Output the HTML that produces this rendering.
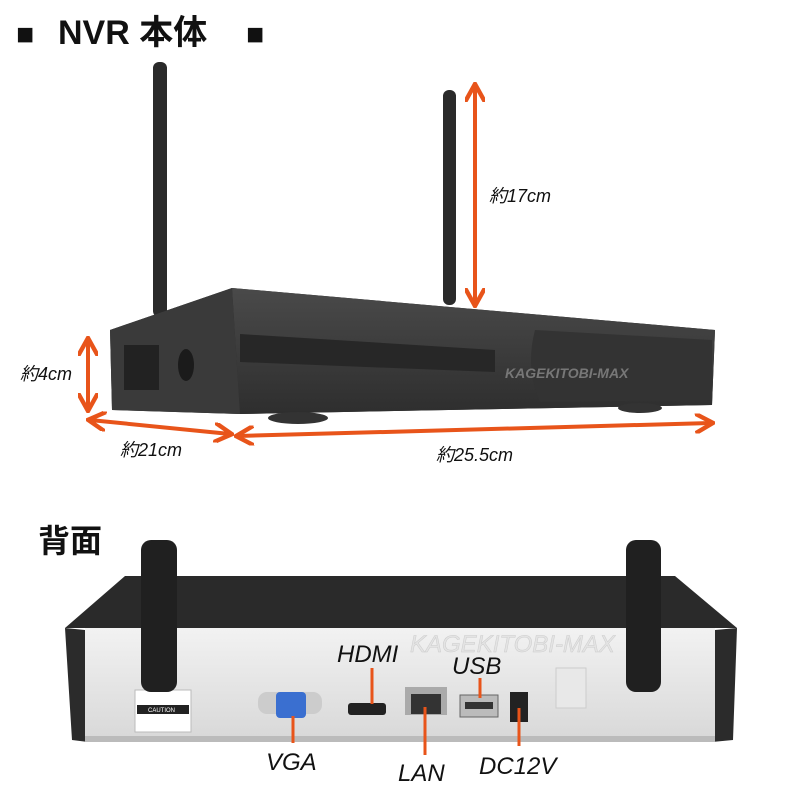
<!DOCTYPE html>
<html><head><meta charset="utf-8"><style>
html,body{margin:0;padding:0;background:#fff;}
svg{display:block}
text{font-family:"Liberation Sans","Noto Sans CJK JP",sans-serif}
</style></head><body>
<svg width="800" height="800" viewBox="0 0 800 800" xmlns="http://www.w3.org/2000/svg">
<defs>
<marker id="ah" viewBox="0 0 10 10" refX="8" refY="5" markerWidth="5" markerHeight="5" orient="auto-start-reverse"><path d="M0,0 L9,5 L0,10" fill="none" stroke="#e8541a" stroke-width="2.2"/></marker>
<linearGradient id="fr" x1="0" y1="0" x2="0" y2="1"><stop offset="0" stop-color="#4a4a4a"/><stop offset="1" stop-color="#2e2e2e"/></linearGradient>
<linearGradient id="sl" x1="0" y1="0" x2="0" y2="1"><stop offset="0" stop-color="#f2f2f2"/><stop offset="1" stop-color="#d8d8d8"/></linearGradient>
</defs>
<g font-weight="bold" fill="#111">
<text x="16" y="44" font-size="30">■</text>
<text x="58" y="44" font-size="34">NVR 本体</text>
<text x="246" y="44" font-size="30">■</text>
</g>

<!-- top antennas -->
<rect x="153" y="62" width="14" height="255" rx="6" fill="#2a2a2a"/>
<rect x="443" y="90" width="13" height="215" rx="6" fill="#2a2a2a"/>
<!-- body -->
<polygon points="110,330 232,288 715,330 712,405 240,414 112,410" fill="#2c2c2c"/>
<polygon points="232,288 715,330 712,405 240,414" fill="url(#fr)"/>
<polygon points="110,330 232,288 240,414 112,410" fill="#3a3a3a"/>
<rect x="124" y="345" width="35" height="45" fill="#222"/>
<ellipse cx="186" cy="365" rx="8" ry="16" fill="#1b1b1b"/>
<polygon points="240,334 495,350 495,372 240,362" fill="#272727"/>
<path d="M535,330 L712,340 L712,400 L540,402 Q525,368 535,330Z" fill="#333"/>
<text x="505" y="378" font-size="14" font-style="italic" font-weight="bold" fill="#777" font-family="Liberation Serif">KAGEKITOBI-MAX</text>
<ellipse cx="298" cy="418" rx="30" ry="6" fill="#333"/>
<ellipse cx="640" cy="408" rx="22" ry="5" fill="#333"/>

<!-- top arrows -->
<g stroke="#e8541a" stroke-width="4" fill="none" marker-start="url(#ah)" marker-end="url(#ah)">
<line x1="475" y1="86" x2="475" y2="304"/>
<line x1="88" y1="340" x2="88" y2="409"/>
<line x1="90" y1="420" x2="230" y2="434"/>
<line x1="238" y1="436" x2="711" y2="423"/>
</g>
<g font-size="18" font-style="italic" fill="#111">
<text x="489" y="202">約17cm</text>
<text x="20" y="380">約4cm</text>
<text x="120" y="456">約21cm</text>
<text x="436" y="461">約25.5cm</text>
</g>

<text x="38" y="552" font-size="32" font-weight="bold" fill="#111">背面</text>

<!-- back device -->
<polygon points="65,628 125,576 675,576 737,628" fill="#2a2a2a"/>
<polygon points="65,628 85,630 88,742 72,740" fill="#2b2b2b"/>
<polygon points="737,628 715,630 712,742 733,740" fill="#2b2b2b"/>
<rect x="85" y="628" width="630" height="112" fill="url(#sl)"/>
<rect x="85" y="736" width="630" height="6" fill="#bbb"/>
<text x="410" y="652" font-size="24" font-style="italic" fill="#e4e4e4" font-family="Liberation Serif" stroke="#ccc" stroke-width="0.5">KAGEKITOBI-MAX</text>
<rect x="135" y="690" width="56" height="42" fill="#fff" stroke="#bbb"/>
<rect x="137" y="705" width="52" height="9" fill="#222"/>
<text x="148" y="712" font-size="6" fill="#fff">CAUTION</text>
<!-- ports -->
<rect x="258" y="692" width="64" height="22" rx="9" fill="#ccc"/>
<rect x="276" y="692" width="30" height="26" rx="4" fill="#3a6fd0"/>
<rect x="348" y="703" width="38" height="12" rx="3" fill="#222"/>
<rect x="405" y="687" width="42" height="28" fill="#aaa"/>
<rect x="411" y="694" width="30" height="20" fill="#333"/>
<rect x="460" y="695" width="38" height="22" fill="#bbb" stroke="#666"/>
<rect x="465" y="702" width="28" height="7" fill="#333"/>
<rect x="510" y="692" width="18" height="30" fill="#222"/>
<rect x="556" y="668" width="30" height="40" fill="#e8e8e8" stroke="#ccc"/>
<!-- back antennas -->
<rect x="141" y="540" width="36" height="152" rx="10" fill="#202020"/>
<rect x="626" y="540" width="35" height="152" rx="10" fill="#202020"/>

<g stroke="#e8541a" stroke-width="3">
<line x1="372" y1="668" x2="372" y2="704"/>
<line x1="480" y1="678" x2="480" y2="698"/>
<line x1="293" y1="716" x2="293" y2="743"/>
<line x1="425" y1="707" x2="425" y2="755"/>
<line x1="519" y1="708" x2="519" y2="746"/>
</g>
<g font-size="24" font-style="italic" fill="#111">
<text x="337" y="662">HDMI</text>
<text x="452" y="674">USB</text>
<text x="266" y="770">VGA</text>
<text x="398" y="781">LAN</text>
<text x="479" y="774">DC12V</text>
</g>
</svg>
</body></html>
